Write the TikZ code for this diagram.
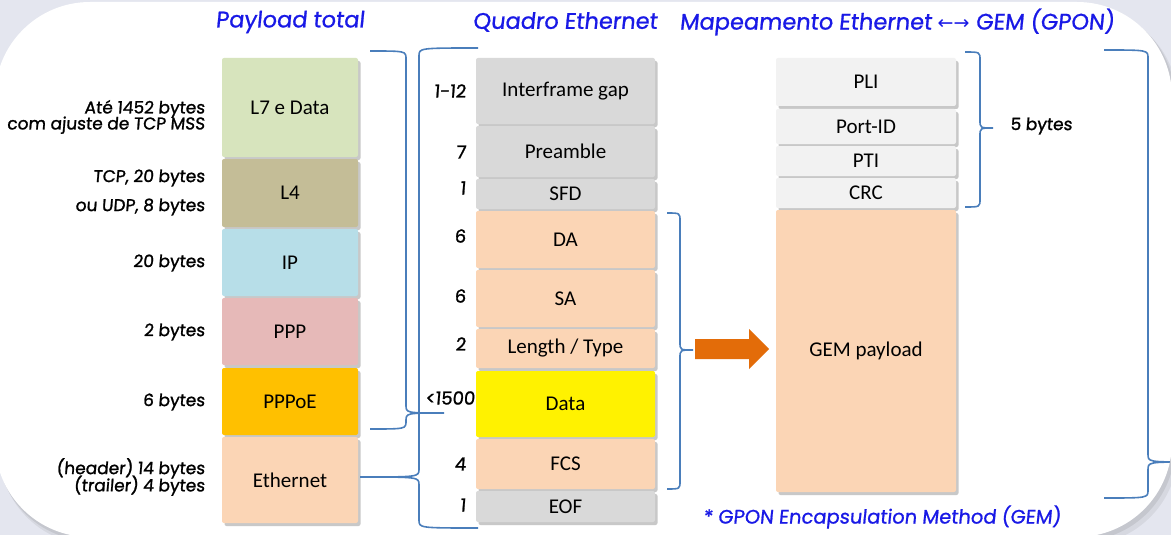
\documentclass[tikz,border=0pt]{standalone}
\usepackage{fontspec}
\setmainfont{Carlito}
\newfontfamily\hand[FakeSlant=0.08,FakeBold=1.3]{Poppins}
\newfontfamily\handt[FakeSlant=0.1,FakeBold=0.9]{Poppins}
\newfontfamily\symf{DejaVu Sans}
\usetikzlibrary{shadows}
\definecolor{bgc}{RGB}{228,230,239}
\definecolor{ttl}{RGB}{25,25,230}
\definecolor{brc}{RGB}{74,126,187}
\definecolor{cLseven}{RGB}{215,228,189}
\definecolor{cLfour}{RGB}{196,189,151}
\definecolor{cIP}{RGB}{183,222,232}
\definecolor{cPPP}{RGB}{230,185,184}
\definecolor{cPPPoE}{RGB}{255,192,0}
\definecolor{peach}{RGB}{251,213,181}
\definecolor{gry}{RGB}{217,217,217}
\definecolor{lgry}{RGB}{242,242,242}
\definecolor{arr}{RGB}{227,108,9}
\newcommand\bracepath[6]{%
  \draw[bracestyle] (#1,#2) .. controls (#3,#2) .. (#3,#2+8) -- (#3,#4-8)
    .. controls (#3,#4) .. (#5,#4) .. controls (#3,#4) .. (#3,#4+8)
    -- (#3,#6-8) .. controls (#3,#6) .. (#1,#6);}
\tikzset{
  blk/.style={draw=none, rounded corners=2pt, inner sep=0pt,
    font=\fontsize{21}{24}\selectfont,
    drop shadow={shadow xshift=2.5pt, shadow yshift=-3pt, opacity=0.3, fill=black!70}},
  lcol/.style={blk, minimum width=136pt},
  mcol/.style={blk, minimum width=179pt},
  rcol/.style={blk, minimum width=180pt},
  lbl/.style={anchor=east, inner sep=0pt, font=\hand\fontsize{17}{20}\selectfont, align=right},
  num/.style={anchor=east, inner sep=0pt, font=\hand\fontsize{18}{20}\selectfont},
  ttlstyle/.style={inner sep=0pt, text=ttl, font=\handt\fontsize{22.5}{26}\selectfont},
  footstyle/.style={inner sep=0pt, text=ttl, font=\handt\fontsize{19.5}{23}\selectfont},
  bracestyle/.style={draw=brc, line width=1.6pt},
}
\begin{document}
\begin{tikzpicture}[x=1pt,y=-1pt]
\useasboundingbox (0,0) rectangle (1171,535);
\clip (0,0) rectangle (1171,535);
% background
\fill[bgc] (0,0) rectangle (1171,535);
\fill[black, opacity=0.06] (-1,8) [rounded corners=95pt] rectangle (1178,545);
\fill[black, opacity=0.08] (-3,5) [rounded corners=95pt] rectangle (1175,541);
\fill[white] (-5,2) [rounded corners=95pt] rectangle (1172,537);
% titles
\node[ttlstyle] (t1) at (290,22) {Payload total};
\node[ttlstyle] (t2) at (565,22) {Quadro Ethernet};
\node[ttlstyle] (t3) at (897,22) {Mapeamento Ethernet {\symf\fontsize{19}{20}\selectfont ←→} GEM (GPON)};
% left column
\node[lcol, fill=cLseven, minimum height=99pt] (l7) at (290,107.5) {L7 e Data};
\node[lcol, fill=cLfour, minimum height=68pt] (l4) at (290,193) {L4};
\node[lcol, fill=cIP, minimum height=67pt] (ip) at (290,262.5) {IP};
\node[lcol, fill=cPPP, minimum height=67pt] (ppp) at (290,331.5) {PPP};
\node[lcol, fill=cPPPoE, minimum height=67pt] (pppoe) at (290,401.5) {PPPoE};
\node[lcol, fill=peach, minimum height=86pt] (eth) at (290,480) {Ethernet};
% left labels
\node[lbl] (a1) at (205,117) {Até 1452 bytes\\[-4pt]com ajuste de TCP MSS};
\node[lbl] (a2) at (205,178) {TCP, 20 bytes};
\node[lbl] (a3) at (205,207) {ou UDP, 8 bytes};
\node[lbl] (a4) at (205,263) {20 bytes};
\node[lbl] (a5) at (205,332) {2 bytes};
\node[lbl] (a6) at (205,402) {6 bytes};
\node[lbl] (a7) at (205,477) {(header) 14 bytes\\[-4pt](trailer) 4 bytes};
% middle column
\node[mcol, fill=gry, minimum height=66pt] (ifg) at (565.5,91) {Interframe gap};
\node[mcol, fill=gry, minimum height=51pt] (pre) at (565.5,151.5) {Preamble};
\node[mcol, fill=gry, minimum height=30pt] (sfd) at (565.5,194) {SFD};
\node[mcol, fill=peach, minimum height=57pt] (da) at (565.5,239.5) {DA};
\node[mcol, fill=peach, minimum height=57pt] (sa) at (565.5,298.5) {SA};
\node[mcol, fill=peach, minimum height=39pt] (lt) at (565.5,348.5) {Length / Type};
\node[mcol, fill=yellow, minimum height=66pt] (data) at (565.5,404) {Data};
\node[mcol, fill=peach, minimum height=50pt] (fcs) at (565.5,464) {FCS};
\node[mcol, fill=gry, minimum height=31pt] (eof) at (565.5,506.5) {EOF};
% numbers
\node[num] (n1) at (466,91) {1-12};
\node[num] (n2) at (466,152) {7};
\node[num] (n3) at (466,188) {1};
\node[num] (n4) at (466,236) {6};
\node[num] (n5) at (466,296) {6};
\node[num] (n6) at (466,344) {2};
\node[num] (n7) at (475,398) {<1500};
\node[num] (n8) at (466,464) {4};
\node[num] (n9) at (466,505) {1};
% right column
\node[rcol, fill=lgry, minimum height=48pt] (pli) at (866,82) {PLI};
\node[rcol, fill=lgry, minimum height=35pt] (pid) at (866,126.5) {Port-ID};
\node[rcol, fill=lgry, minimum height=30pt] (pti) at (866,161) {PTI};
\node[rcol, fill=lgry, minimum height=30pt] (crc) at (866,193) {CRC};
\node[rcol, fill=peach, minimum height=282pt] (gem) at (866,351) {GEM payload};
\node[lbl, anchor=west] (b5) at (1010,126) {5 bytes};
\node[footstyle] (foot) at (882,517) {* GPON Encapsulation Method (GEM)};
% braces
\bracepath{370}{51}{406}{413}{444}{429}
\bracepath{478}{48}{419}{477}{360}{528}
\bracepath{667}{213}{680}{350}{693}{489}
\bracepath{965}{52}{980}{128}{993}{207}
\begin{scope}
\clip (-5,2) [rounded corners=95pt] rectangle (1172,537);
\bracepath{1104}{50}{1148}{462}{1192}{498}
\end{scope}
% arrow
\fill[arr] (695,339) -- (749,339) -- (749,329) -- (769,349) -- (749,369) -- (749,359) -- (695,359) -- cycle;
\end{tikzpicture}
\end{document}
